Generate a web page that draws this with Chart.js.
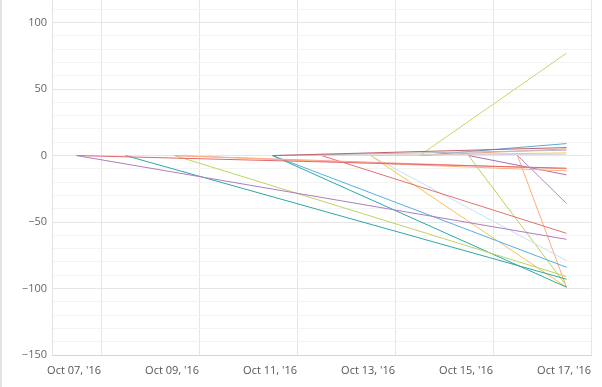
<!DOCTYPE html>
<html>
<head>
<meta charset="utf-8">
<script src="https://cdn.jsdelivr.net/npm/chart.js@4.4.0/dist/chart.umd.min.js"></script>
<style>
html,body{margin:0;padding:0;background:#fff;}
#wrap{width:600px;height:387px;border-left:2px solid #e3e3e3;}
</style>
</head>
<body>
<div id="wrap"><canvas id="chart" width="600" height="387"></canvas></div>
<script>
// each series starts at 0 on its start day (October, noon) and ends on Oct 16 noon
const startDays=[6.5,6.5,7.5,8.5,8.5,8.5,10.5,10.5,10.5,10.5,10.5,11.5,12.5,12.5,12.5,13.5,13.5,13.5,14.5,14.5,15.5,15.5];
const endDay=16.5;
const endValues=[-63,-9.5,-93,-91,-11.5,-10,-99,-84,6,4,1,-58.5,-99,-79,2,77,9,5,-98,-14.5,-99,-36];
const tickDays=[7,9,11,13,15,17];
const tickLabels=["Oct 07, '16","Oct 09, '16","Oct 11, '16","Oct 13, '16","Oct 15, '16","Oct 17, '16"];
const yTicks=[];
for(let v=-150;v<=110;v+=10) yTicks.push(v);

const colors=["#b07cbf","#e06a6a","#2fa7a3","#bcd462","#ffb07c","#f5a0a0","#2aa8a4","#56aee2","#c0606a","#b8b8c4","#d9d0e2","#e27272","#f4c650","#c7e0f4","#e8d060","#c2d86a","#5aa8dc","#f0a080","#bcd060","#a870b0","#ffaa78","#b684c4"];

const datasets=startDays.map((s,i)=>({
  data:[{x:s,y:0},{x:endDay,y:endValues[i]}],
  borderColor:colors[i],
  borderWidth:1,
  pointRadius:0,
  tension:0
}));

new Chart(document.getElementById("chart"),{
  type:"line",
  data:{datasets},
  options:{
    responsive:false,
    animation:false,
    layout:{padding:{top:0,right:11,left:0,bottom:0}},
    plugins:{legend:{display:false},tooltip:{enabled:false}},
    scales:{
      x:{
        type:"linear",min:6,max:17,
        afterBuildTicks:scale=>{scale.ticks=tickDays.map(v=>({value:v}));},
        afterFit:scale=>{scale.height=32;scale.paddingLeft=0;scale.paddingRight=0;},
        grid:{color:"#e6e6e6",drawTicks:false},
        border:{color:"#ccd6eb"},
        ticks:{
          align:"end",maxRotation:0,autoSkip:false,padding:9,color:"#555",
          font:{family:"Open Sans",size:11},
          callback:v=>tickLabels[tickDays.indexOf(v)]
        }
      },
      y:{
        min:-150,max:117,
        afterBuildTicks:scale=>{scale.ticks=yTicks.map(v=>({value:v}));},
        afterFit:scale=>{scale.width=50;scale.paddingTop=0;scale.paddingBottom=0;},
        grid:{drawTicks:false,color:ctx=>ctx.tick&&ctx.tick.value%50===0?"#e6e6e6":"#f3f3f3"},
        border:{color:"#e3e3e3"},
        ticks:{
          autoSkip:false,padding:5,color:"#666",
          font:{family:"Open Sans",size:11},
          callback:v=>v%50===0?(v<0?"\u2212"+Math.abs(v):String(v)):""
        }
      }
    }
  }
});
</script>
</body>
</html>
